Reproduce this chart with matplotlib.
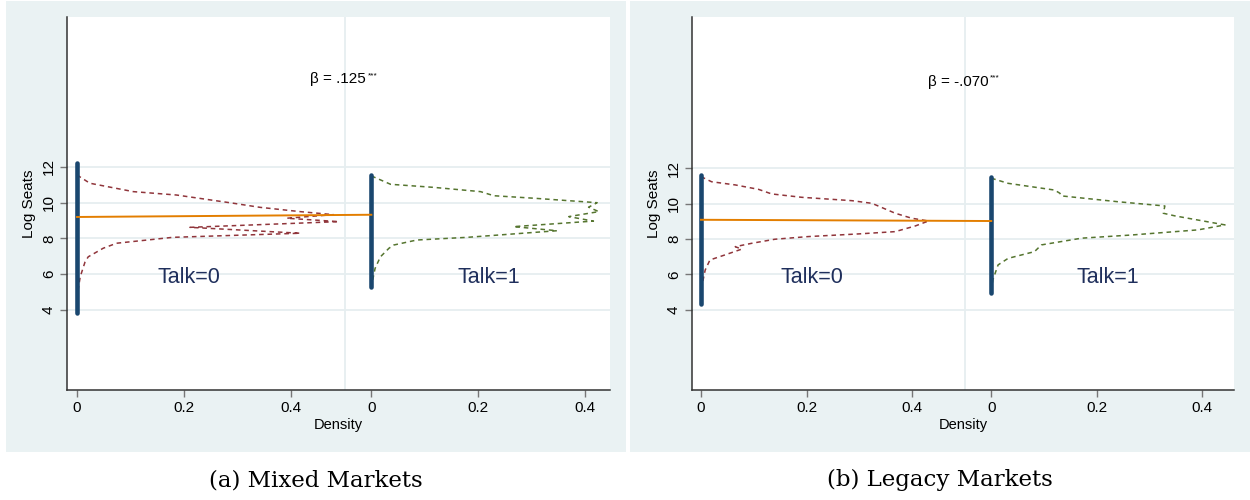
import matplotlib
matplotlib.use("Agg")
import matplotlib.pyplot as plt
from matplotlib.patches import Rectangle

plt.rcParams['font.family'] = ['Liberation Sans', 'DejaVu Sans']

# group offset on the shared density axis (Talk=1 block starts here)
offset = 0.55

# ---- Mixed markets ----
mixed_t0_dens = [0, 0.024, 0.105, 0.186, 0.292, 0.342, 0.417, 0.479, 0.392, 0.489,
                 0.211, 0.417, 0.179, 0.074, 0.049, 0.021, 0.015, 0.006, 0.002, 0]
mixed_t0_y = [11.55, 11.09, 10.62, 10.43, 9.97, 9.74, 9.50, 9.33, 9.13, 8.94,
              8.62, 8.29, 8.06, 7.73, 7.45, 6.97, 6.68, 5.85, 5.11, 3.99]
mixed_t1_dens = [0, 0.036, 0.116, 0.204, 0.229, 0.304, 0.422, 0.406, 0.425, 0.369,
                 0.415, 0.266, 0.347, 0.179, 0.085, 0.042, 0.033, 0.017, 0.007, 0]
mixed_t1_y = [11.5, 11.03, 10.86, 10.62, 10.39, 10.25, 10.0, 9.75, 9.50, 9.22,
              8.97, 8.66, 8.43, 8.06, 7.91, 7.63, 7.45, 6.97, 6.32, 5.3]
mixed_range_t0 = [3.80, 12.24]
mixed_range_t1 = [5.29, 11.55]
mixed_const = 9.20
mixed_beta = 0.125

# ---- Legacy markets ----
legacy_t0_dens = [0, 0.020, 0.065, 0.109, 0.134, 0.191, 0.286, 0.324, 0.368, 0.399,
                  0.431, 0.406, 0.368, 0.298, 0.203, 0.140, 0.096, 0.065, 0.077, 0.045,
                  0.017, 0.008, 0, 0]
legacy_t0_y = [11.53, 11.24, 11.06, 10.81, 10.55, 10.36, 10.17, 10.02, 9.46, 9.18,
               9.02, 8.74, 8.42, 8.29, 8.14, 7.99, 7.76, 7.57, 7.43, 7.10,
               6.82, 6.25, 5.12, 4.37]
legacy_t1_dens = [0, 0.032, 0.120, 0.130, 0.133, 0.240, 0.329, 0.326, 0.348, 0.443,
                  0.392, 0.266, 0.171, 0.095, 0.082, 0.032, 0.013, 0.003, 0]
legacy_t1_y = [11.44, 11.15, 10.77, 10.59, 10.44, 10.11, 9.87, 9.46, 9.31, 8.80,
               8.52, 8.23, 8.05, 7.67, 7.29, 6.91, 6.54, 5.69, 4.94]
legacy_range_t0 = [4.33, 11.61]
legacy_range_t1 = [4.97, 11.49]
legacy_const = 9.09
legacy_beta = -0.070

yticks = [4, 6, 8, 10, 12]
xticks = [0, 0.2, 0.4]

navy = '#1a476f'
maroon = '#90353b'
green = '#55752f'
orange = '#e37e00'
bgcol = '#eaf2f3'
gridcol = '#e6eef0'


def fmt_beta(b):
    s = f"{b:.3f}".replace("0.", ".")
    return s


def draw_panel(ax, d0, y0, d1, y1, r0, r1, const, beta, xlim, ylim):
    ax.set_facecolor('white')
    for yt in yticks:
        ax.axhline(yt, color=gridcol, lw=1.3, zorder=0)
    ax.axvline(0.5, color=gridcol, lw=1.3, zorder=0)

    ax.plot(d0, y0, color=maroon, lw=1.1, dashes=(3, 2.5), zorder=2)
    ax.plot([offset + d for d in d1], y1, color=green, lw=1.1, dashes=(3, 2.5), zorder=2)

    ax.plot([0, 0], r0, color=navy, lw=3.3, solid_capstyle='round', zorder=3)
    ax.plot([offset, offset], r1, color=navy, lw=3.3, solid_capstyle='round', zorder=3)

    ax.plot([0, offset], [const, const + beta], color=orange, lw=1.4, zorder=4)

    # coefficient with significance stars
    t = ax.text(0.488, 16.9, 'β = ' + fmt_beta(beta), ha='center', va='center',
                fontsize=11)
    ax.annotate('***', xy=(1.0, 1.0), xycoords=t, xytext=(1, 0),
                textcoords='offset points', ha='left', va='top', fontsize=6)

    ax.text(0.21, 5.8, 'Talk=0', ha='center', va='center', fontsize=15.5, color='#1f2f5c')
    ax.text(offset + 0.22, 5.8, 'Talk=1', ha='center', va='center', fontsize=15.5,
            color='#1f2f5c')

    ax.set_xlim(xlim)
    ax.set_ylim(ylim)
    ax.set_xticks(xticks + [offset + t for t in xticks])
    ax.set_xticklabels(['0', '0.2', '0.4'] * 2, fontsize=11)
    ax.set_yticks(yticks)
    ax.set_yticklabels([str(t) for t in yticks], fontsize=11, rotation=90, va='center')
    ax.tick_params(length=5, color='#777777', width=1.0, pad=3)
    ax.set_xlabel('Density', fontsize=10.5, labelpad=2)
    ax.set_ylabel('Log Seats', fontsize=11, labelpad=4)
    for side in ['top', 'right']:
        ax.spines[side].set_visible(False)
    for side in ['left', 'bottom']:
        ax.spines[side].set_color('#333333')
        ax.spines[side].set_linewidth(1.1)


W, H = 1250, 500
fig = plt.figure(figsize=(W / 100, H / 100), dpi=100)

# panel backgrounds, kept behind the axes
for x0, x1 in [(6, 626), (630, 1250)]:
    fig.patches.append(Rectangle((x0 / W, 1 - 452 / H), (x1 - x0) / W, 451 / H,
                                 transform=fig.transFigure, facecolor=bgcol,
                                 edgecolor='none', zorder=-10))

ax1 = fig.add_axes([67 / W, 1 - 390 / H, 543 / W, 373 / H])
ax2 = fig.add_axes([692 / W, 1 - 390 / H, 542 / W, 373 / H])

draw_panel(ax1, mixed_t0_dens, mixed_t0_y, mixed_t1_dens, mixed_t1_y,
           mixed_range_t0, mixed_range_t1, mixed_const, mixed_beta,
           (-0.0187, 0.996), (-0.49, 20.4))
draw_panel(ax2, legacy_t0_dens, legacy_t0_y, legacy_t1_dens, legacy_t1_y,
           legacy_range_t0, legacy_range_t1, legacy_const, legacy_beta,
           (-0.017, 1.010), (-0.53, 20.55))

fig.text(316 / W, 1 - 480 / H, '(a) Mixed Markets', ha='center', va='center',
         fontsize=16.5, family='DejaVu Serif')
fig.text(940 / W, 1 - 480 / H, '(b) Legacy Markets', ha='center', va='center',
         fontsize=16.5, family='DejaVu Serif')

fig.savefig('out.png', dpi=100, facecolor='white')
